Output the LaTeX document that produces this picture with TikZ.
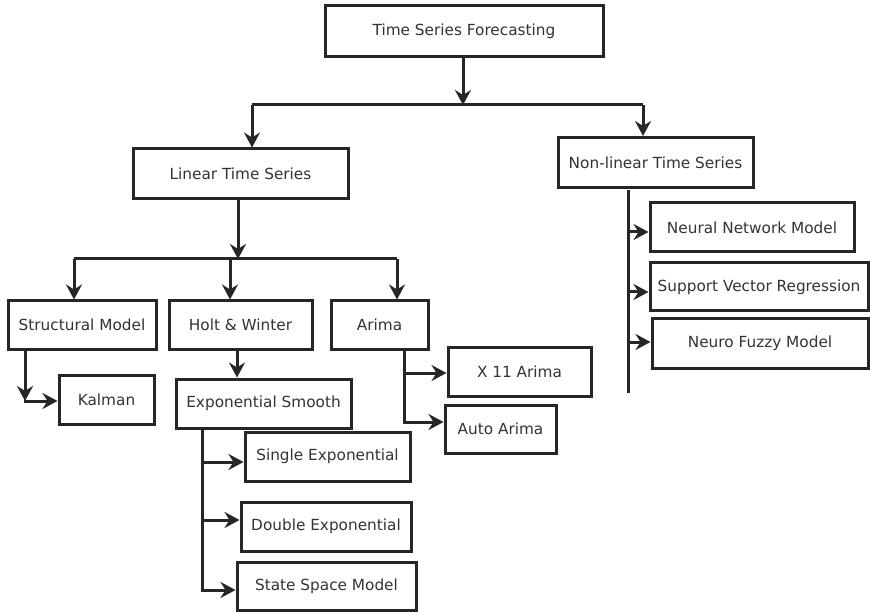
\documentclass[tikz,border=0pt]{standalone}
\usepackage{fontspec}
\setmainfont{DejaVu Sans}
\usetikzlibrary{arrows.meta}
\begin{document}
\begin{tikzpicture}[x=1pt,y=-1pt,
  box/.style={draw=black!85, line width=3pt, inner sep=0pt, fill=white,
              font=\fontsize{15.3}{18}\selectfont, text=black!80},
  wire/.style={draw=black!85, line width=3pt},
  arr/.style={wire, -{Stealth[length=15pt,width=16pt,inset=5pt]}}]
\useasboundingbox (0,0) rectangle (870,612);

% boxes (centre, width, height)
\node[box, minimum width=278, minimum height=51] (tsf)    at (464,31.5)  {Time Series Forecasting};
\node[box, minimum width=215, minimum height=50] (lin)    at (240.5,174) {Linear Time Series};
\node[box, minimum width=195, minimum height=50] (nonlin) at (655.5,162.5) {Non-linear Time Series};

\node[box, minimum width=148, minimum height=48] (struct) at (82,325)    {Structural Model};
\node[box, minimum width=143, minimum height=48] (holt)   at (240.5,325) {Holt \& Winter};
\node[box, minimum width=97,  minimum height=48] (arima)  at (379.5,325) {Arima};

\node[box, minimum width=95,  minimum height=49] (kalman) at (106.5,399.5) {Kalman};
\node[box, minimum width=175, minimum height=49] (expo)   at (263.5,403.5) {Exponential Smooth};

\node[box, minimum width=165, minimum height=49] (single) at (327.5,456.5) {Single Exponential};
\node[box, minimum width=170, minimum height=49] (double) at (326,526.5)   {Double Exponential};
\node[box, minimum width=179, minimum height=48] (state)  at (326.5,586)   {State Space Model};

\node[box, minimum width=143, minimum height=49] (x11)    at (519.5,371.5) {X 11 Arima};
\node[box, minimum width=111, minimum height=48] (auto)   at (500.5,429)   {Auto Arima};

\node[box, minimum width=204, minimum height=49] (nn)     at (752,227.5) {Neural Network Model};
\node[box, minimum width=218, minimum height=48] (svr)    at (759,287)   {Support Vector Regression};
\node[box, minimum width=216, minimum height=49] (nfm)    at (760,343.5) {Neuro Fuzzy Model};

% junction points of the connectors
\coordinate (topL)  at (252,105);
\coordinate (topR)  at (643,105);
\coordinate (topM)  at (463,105);
\coordinate (linM)  at (238,259);
\coordinate (linL)  at (74,259);
\coordinate (linC)  at (230,259);
\coordinate (linR)  at (397,259);
\coordinate (kalC)  at (25,401);
\coordinate (expT)  at (202,428);
\coordinate (expB)  at (202,590);
\coordinate (ariT)  at (404,349);
\coordinate (ariB)  at (404,422);
\coordinate (nlT)   at (628,190);
\coordinate (nlB)   at (628,393);

% root to the two families
\draw[arr] (tsf.south -| topM) -- (topM);
\draw[wire] (topL) -- (topR);
\draw[arr] (topL) -- (topL |- lin.north);
\draw[arr] (topR) -- (topR |- nonlin.north);

% linear family
\draw[arr] (lin.south -| linM) -- (linM);
\draw[wire] (linL) -- (linR);
\draw[arr] (linL) -- (linL |- struct.north);
\draw[arr] (linC) -- (linC |- holt.north);
\draw[arr] (linR) -- (linR |- arima.north);

% structural model to Kalman
\draw[arr] (struct.south -| kalC) -- (kalC);
\draw[arr] ([xshift=-1.5pt]kalC) -- (kalC -| kalman.west);

% Holt & Winter to exponential smoothing
\draw[arr] (holt.south -| 237,0) -- (expo.north -| 237,0);
\draw[wire] (expT) -- (expB);
\draw[arr] (202,462) -- (202,462 -| single.west);
\draw[arr] (202,520) -- (202,520 -| double.west);
\draw[arr] ([xshift=-1.5pt]expB) -- (expB -| state.west);

% Arima variants
\draw[wire] (ariT) -- (ariB);
\draw[arr] (404,373) -- (404,373 -| x11.west);
\draw[arr] ([xshift=-1.5pt]ariB) -- (ariB -| auto.west);

% non-linear family
\draw[wire] (nlT) -- (nlB);
\draw[arr] (628,232) -- (628,232 -| nn.west);
\draw[arr] (628,292) -- (628,292 -| svr.west);
\draw[arr] (628,342) -- (628,342 -| nfm.west);
\end{tikzpicture}
\end{document}
